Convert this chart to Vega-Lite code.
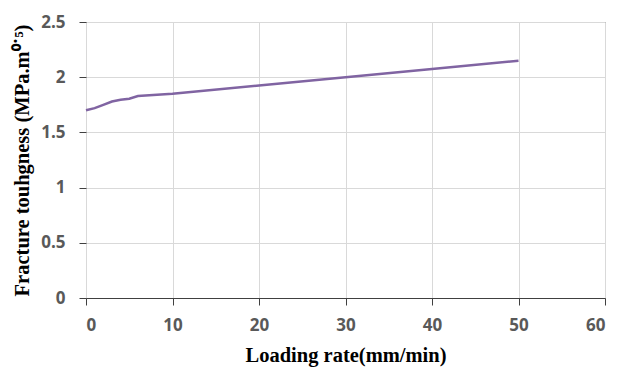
{
  "$schema": "https://vega.github.io/schema/vega-lite/v6.json",
  "autosize": {"type": "none"},
  "width": 519,
  "height": 276,
  "padding": {"left": 86, "top": 22, "right": 12, "bottom": 69},
  "background": "white",
  "config": {
    "view": {"stroke": "#595959", "strokeWidth": 1},
    "axis": {
      "gridColor": "#d9d9d9",
      "gridWidth": 1,
      "domainColor": "#404040",
      "tickColor": "#404040",
      "tickSize": 7,
      "labelFont": "Open Sans",
      "labelFontWeight": "bold",
      "labelFontSize": 17,
      "labelColor": "#595959",
      "titleFont": "Liberation Serif",
      "titleFontWeight": "bold",
      "titleFontSize": 20.5,
      "titleColor": "black"
    }
  },
  "data": {
    "values": [
      {"rate": 0, "k": 1.70},
      {"rate": 1, "k": 1.72},
      {"rate": 2, "k": 1.75},
      {"rate": 3, "k": 1.78},
      {"rate": 4, "k": 1.795},
      {"rate": 5, "k": 1.805},
      {"rate": 6, "k": 1.83},
      {"rate": 10, "k": 1.85},
      {"rate": 20, "k": 1.925},
      {"rate": 30, "k": 2.0},
      {"rate": 40, "k": 2.075},
      {"rate": 50, "k": 2.15}
    ]
  },
  "mark": {"type": "line", "color": "#8064A2", "strokeWidth": 2.5},
  "encoding": {
    "x": {
      "field": "rate",
      "type": "quantitative",
      "scale": {"domain": [0, 60], "nice": false},
      "axis": {"values": [0, 10, 20, 30, 40, 50, 60], "labelPadding": 12, "title": "Loading rate(mm/min)", "titlePadding": 12}
    },
    "y": {
      "field": "k",
      "type": "quantitative",
      "scale": {"domain": [0, 2.5], "nice": false},
      "axis": {"values": [0, 0.5, 1, 1.5, 2, 2.5], "format": "~g", "labelPadding": 14, "domain": false, "title": "Fracture touhgness (MPa.m⁰˙⁵)", "titlePadding": 8}
    }
  }
}
